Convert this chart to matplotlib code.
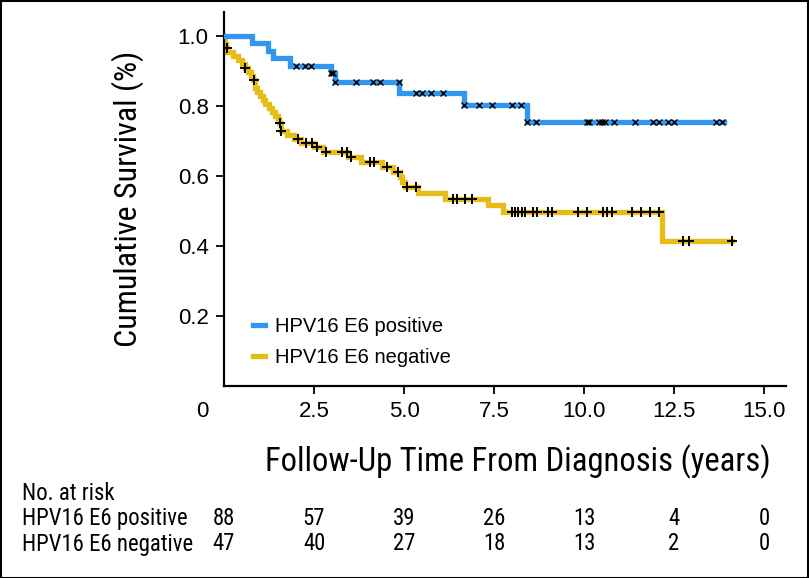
import matplotlib
matplotlib.use("Agg")
import matplotlib.pyplot as plt
import matplotlib.transforms as mtransforms
from matplotlib import font_manager
import numpy as np

# ---------------- data ----------------
x_ticks = [0, 2.5, 5.0, 7.5, 10.0, 12.5, 15.0]
x_tick_labels = ["0", "2.5", "5.0", "7.5", "10.0", "12.5", "15.0"]
y_ticks = [0.2, 0.4, 0.6, 0.8, 1.0]
y_tick_labels = ["0.2", "0.4", "0.6", "0.8", "1.0"]

pos_label = "HPV16 E6 positive"
neg_label = "HPV16 E6 negative"

# HPV16 E6 positive (blue): event times and survival after each drop
pos_event_t = [0.77, 1.21, 1.35, 1.83, 2.96, 3.07, 4.87, 6.67, 8.42]
pos_event_s = [0.979, 0.957, 0.936, 0.915, 0.893, 0.868, 0.838, 0.802, 0.755]
pos_end_t = 13.89
pos_censor_t = [2.01, 2.25, 2.42, 2.97, 3.02, 3.08, 3.67, 4.15, 4.33, 4.86,
                5.33, 5.51, 5.75, 6.07, 6.68, 7.09, 7.44, 8.01, 8.25, 8.43,
                8.68, 10.07, 10.15, 10.42, 10.51, 10.59, 10.83, 11.43, 11.91,
                12.09, 12.34, 12.51, 13.67, 13.82]

# HPV16 E6 negative (yellow)
neg_event_t = [0.02, 0.04, 0.06, 0.09, 0.25, 0.38, 0.50, 0.57, 0.68, 0.76,
               0.81, 0.86, 0.92, 1.00, 1.08, 1.15, 1.25, 1.33, 1.42, 1.50,
               1.54, 1.58, 1.75, 1.95, 2.15, 2.50, 2.75, 3.45, 3.80, 4.40,
               4.70, 4.88, 4.95, 5.02, 5.39, 6.14, 7.33, 7.76, 12.16]
neg_event_s = [0.989, 0.977, 0.966, 0.955, 0.943, 0.932, 0.920, 0.909, 0.897, 0.886,
               0.874, 0.852, 0.840, 0.829, 0.817, 0.806, 0.794, 0.783, 0.771, 0.762,
               0.751, 0.728, 0.717, 0.706, 0.694, 0.682, 0.668, 0.655, 0.641, 0.627,
               0.612, 0.598, 0.584, 0.569, 0.552, 0.534, 0.517, 0.496, 0.415]
neg_end_t = 14.10
neg_censor_t = [0.07, 0.59, 0.84, 1.55, 1.59, 2.06, 2.28, 2.44, 2.57, 2.83,
                3.27, 3.41, 3.53, 4.06, 4.17, 4.52, 4.84, 5.09, 5.33, 6.37,
                6.46, 6.69, 6.88, 7.99, 8.08, 8.17, 8.27, 8.36, 8.59, 8.69,
                9.01, 9.10, 9.84, 10.07, 10.54, 10.63, 10.77, 11.32, 11.58,
                11.83, 12.08, 12.74, 12.93, 14.10]

risk_times = [0, 2.5, 5.0, 7.5, 10.0, 12.5, 15.0]
risk_pos = [88, 57, 39, 26, 13, 4, 0]
risk_neg = [47, 40, 27, 18, 13, 2, 0]

# ---------------- fonts ----------------
names = {f.name for f in font_manager.fontManager.ttflist}
regular_font = "Liberation Sans" if "Liberation Sans" in names else "DejaVu Sans"
narrow_font = None
for cand in ["Liberation Sans Narrow", "Roboto Condensed", "DejaVu Sans Condensed",
             "Open Sans Condensed", "Noto Sans Condensed"]:
    if cand in names:
        narrow_font = cand
        break
if narrow_font is None:
    narrow_font = regular_font
plt.rcParams["font.family"] = [regular_font, "DejaVu Sans"]

BLUE = "#3197EE"
YELLOW = "#E6BC17"


def step_xy(ev_t, ev_s, end_t):
    xs = [0.0] + list(ev_t) + [end_t]
    ys = [1.0] + list(ev_s) + [ev_s[-1]]
    return np.array(xs), np.array(ys)


def censor_y(ev_t, ev_s, cens):
    ev_t = np.asarray(ev_t)
    ev_s = np.asarray(ev_s)
    out = []
    for c in cens:
        idx = np.searchsorted(ev_t, c, side="right") - 1
        out.append(1.0 if idx < 0 else ev_s[idx])
    return np.array(out)


W, H, DPI = 809, 578, 100
fig = plt.figure(figsize=(W / DPI, H / DPI), dpi=DPI)

xmax = 15.6
ymax = 1.069
ax_left, ax_bottom = 224, 386  # pixel positions of x=0 / y=0
ppx, ppy = 36.0, 350.0
ax = fig.add_axes([ax_left / W, 1 - ax_bottom / H, xmax * ppx / W, ymax * ppy / H])

px, py = step_xy(pos_event_t, pos_event_s, pos_end_t)
nx, ny = step_xy(neg_event_t, neg_event_s, neg_end_t)
ax.step(nx, ny, where="post", color=YELLOW, lw=3.8, solid_joinstyle="miter",
        label=neg_label, zorder=2)
ax.step(px, py, where="post", color=BLUE, lw=3.8, solid_joinstyle="miter",
        label=pos_label, zorder=3)

ax.plot(pos_censor_t, censor_y(pos_event_t, pos_event_s, pos_censor_t), ls="none",
        marker="x", ms=4.0, mew=1.0, color="black", zorder=4)
ax.plot(neg_censor_t, censor_y(neg_event_t, neg_event_s, neg_censor_t), ls="none",
        marker="+", ms=7.5, mew=1.4, color="black", zorder=4)

ax.set_xlim(0, xmax)
ax.set_ylim(0, ymax)
for s in ["top", "right"]:
    ax.spines[s].set_visible(False)
for s in ["left", "bottom"]:
    ax.spines[s].set_linewidth(1.6)

ax.set_xticks(x_ticks)
ax.set_xticklabels(x_tick_labels)
ax.set_yticks(y_ticks)
ax.set_yticklabels(y_tick_labels)
ax.tick_params(axis="both", labelsize=16, length=6, width=1.3, pad=5, color="black")
# '0' label sits left of the origin, no tick mark
ax.xaxis.get_major_ticks()[0].tick1line.set_visible(False)
lbl0 = ax.get_xticklabels()[0]
lbl0.set_transform(lbl0.get_transform() +
                   mtransforms.ScaledTranslation(-22 / DPI, 0, fig.dpi_scale_trans))

ax.set_xlabel("Follow-Up Time From Diagnosis (years)", fontsize=23.5, family=narrow_font)
ax.xaxis.label.set_va("center")
ax.xaxis.set_label_coords((518 - ax_left) / (xmax * ppx), (ax_bottom - 462) / (ymax * ppy))
ax.set_ylabel("Cumulative Survival (%)", fontsize=23, family=narrow_font)
ax.yaxis.label.set_va("center")
ax.yaxis.set_label_coords((127.5 - ax_left) / (xmax * ppx), (ax_bottom - 199) / (ymax * ppy))

handles, labels = ax.get_legend_handles_labels()
order = [labels.index(pos_label), labels.index(neg_label)]
ax.legend([handles[i] for i in order], [labels[i] for i in order],
          loc="center left", bbox_to_anchor=(253 / W, 1 - 342 / H),
          bbox_transform=fig.transFigure, frameon=False, fontsize=14.5,
          handlelength=0.6, handletextpad=0.5, labelspacing=0.6,
          borderpad=0, borderaxespad=0)

# number-at-risk table
tr = mtransforms.blended_transform_factory(ax.transData, fig.transFigure)
fs_tab = 16.4
fig.text(22 / W, 1 - 493 / H, "No. at risk", fontsize=fs_tab, family=narrow_font,
         ha="left", va="center")
fig.text(22 / W, 1 - 518.5 / H, pos_label, fontsize=fs_tab, family=narrow_font,
         ha="left", va="center")
fig.text(22 / W, 1 - 544 / H, neg_label, fontsize=fs_tab, family=narrow_font,
         ha="left", va="center")
for t, a, b in zip(risk_times, risk_pos, risk_neg):
    fig.text(t, 1 - 518.5 / H, str(a), transform=tr, fontsize=fs_tab,
             family=narrow_font, ha="center", va="center")
    fig.text(t, 1 - 544 / H, str(b), transform=tr, fontsize=fs_tab,
             family=narrow_font, ha="center", va="center")

# outer frame
fig.patches.append(plt.Rectangle((0.5 / W, 0.5 / H), 1 - 1.5 / W, 1 - 1.5 / H,
                                 transform=fig.transFigure, fill=False,
                                 edgecolor="black", lw=1.5))

fig.savefig("out.png", dpi=DPI)
